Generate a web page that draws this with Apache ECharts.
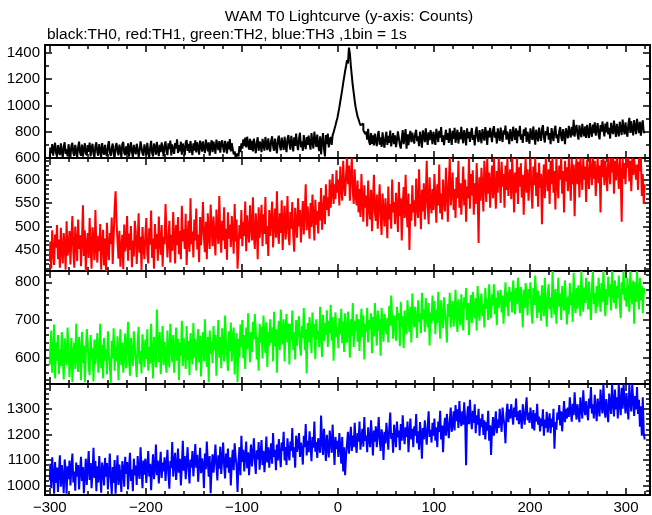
<!DOCTYPE html>
<html><head><meta charset="utf-8">
<script src="https://cdn.jsdelivr.net/npm/echarts@6/dist/echarts.min.js"></script>
<style>html,body{margin:0;padding:0;background:#fff}#c{width:652px;height:515px}</style>
</head><body><div id="c"></div><script>
const tStart = -300;
const binWidth = 1;
const titleText = 'WAM T0 Lightcurve (y-axis: Counts)';
const subtitleText = 'black:TH0, red:TH1, green:TH2, blue:TH3 ,1bin = 1s';
const channelNames = ['TH0', 'TH1', 'TH2', 'TH3'];

const th0 = [
602,680,635,705,618,672,716,640,610,698,
650,622,712,645,603,690,720,632,668,612,
705,648,608,694,715,636,615,700,655,604,
685,724,640,618,702,610,668,712,636,620,
698,646,718,612,670,708,632,604,692,720,
642,618,706,660,606,714,652,625,700,635,
614,692,728,644,616,676,710,628,600,690,
714,648,620,702,664,606,706,722,638,622,
688,632,712,610,668,720,645,608,700,660,
628,708,670,606,652,726,682,634,618,704,
666,620,716,650,603,678,730,640,612,710,
684,626,722,660,614,700,645,718,672,612,
696,726,650,622,712,668,732,620,704,658,
632,714,672,742,638,698,650,724,626,710,
676,620,718,736,654,708,638,728,670,622,
712,656,734,642,720,680,626,732,698,648,
726,674,638,740,700,650,720,618,690,735,
645,724,684,632,740,698,660,728,640,708,
734,680,642,730,690,634,725,665,744,650,
712,668,628,650,606,600,634,612,690,645,
712,672,742,690,756,680,762,706,665,745,
662,730,650,748,692,636,718,758,655,725,
700,645,745,708,656,760,700,660,750,688,
648,730,765,690,655,748,685,636,740,770,
695,658,755,702,662,762,690,645,745,775,
706,664,768,714,650,758,692,785,708,660,
745,792,682,726,655,775,705,668,760,700,
770,710,664,790,720,672,800,730,684,778,
696,652,765,628,722,790,672,612,775,705,
785,680,738,760,700,772,795,822,850,880,
905,945,985,1030,1075,1120,1170,1215,1260,1300,
1345,1320,1440,1395,1300,1225,1150,1095,1035,985,
950,915,895,870,850,835,862,810,796,782,
800,740,822,725,700,790,708,772,696,785,
732,690,775,805,702,758,685,795,722,678,
755,800,700,768,716,808,688,742,790,705,
772,682,735,802,752,700,672,748,812,706,
762,820,670,780,698,770,806,720,792,745,
710,785,815,728,765,690,800,752,678,810,
778,720,826,758,700,795,735,812,768,706,
800,748,700,822,768,722,806,755,835,722,
772,698,760,815,738,790,715,826,762,700,
806,745,830,716,770,815,710,795,742,838,
762,712,812,770,696,826,750,800,722,785,
828,738,775,695,802,838,752,722,812,766,
712,820,770,732,835,785,700,808,756,830,
775,720,815,842,755,795,710,825,775,730,
832,762,722,810,778,846,740,802,760,705,
820,770,728,838,788,738,826,712,808,765,
845,740,780,715,818,768,832,722,800,752,
708,826,772,738,840,765,702,815,770,726,
832,778,730,820,850,755,718,805,772,838,
740,790,706,828,770,728,812,845,750,780,
715,805,836,762,730,820,772,706,826,790,
750,845,792,756,838,772,890,762,825,852,
778,740,848,800,758,860,802,765,840,752,
852,796,752,866,806,762,855,790,872,770,
818,865,775,742,850,800,878,810,765,862,
795,875,780,830,748,868,812,782,885,818,
760,860,806,765,876,820,775,892,822,780,
872,800,762,860,905,790,880,815,772,888,
832,782,898,840,790,875,770,852,886,790,
805
];

const th1 = [
425,468,410,492,447,418,483,455,503,430,
472,412,497,450,421,486,461,408,511,438,
455,490,419,478,522,446,412,500,466,426,
515,452,481,415,470,545,437,492,405,463,
486,433,518,457,410,498,471,428,535,452,
423,480,447,505,408,465,493,417,474,405,
508,450,428,486,462,519,420,477,540,575,
510,468,431,491,414,455,482,409,504,447,
464,522,427,485,450,501,413,470,436,512,
489,420,462,528,444,478,407,499,457,430,
482,518,442,421,496,461,534,433,474,410,
505,452,484,427,521,465,440,503,414,478,
462,548,488,434,470,512,423,482,448,531,
476,421,503,460,520,441,490,430,544,468,
494,452,527,418,475,512,446,560,462,489,
434,515,470,538,451,483,424,520,460,499,
552,476,445,510,430,528,482,452,547,497,
458,521,477,438,536,490,463,565,481,444,
512,470,541,452,495,429,530,474,504,456,
522,488,442,548,468,515,410,455,503,474,
535,458,510,480,553,447,524,490,466,545,
500,470,562,482,452,528,497,430,541,475,
507,546,458,526,484,563,462,501,437,535,
480,514,553,455,505,538,476,575,492,463,
528,486,556,450,512,544,472,500,565,485,
460,531,495,552,481,446,540,503,476,560,
500,535,466,515,554,483,530,590,492,543,
512,474,550,499,568,520,470,557,504,533,
485,552,513,582,493,531,566,505,590,535,
562,522,600,540,575,612,548,590,558,620,
572,600,545,628,580,555,640,588,565,610,
646,590,630,555,612,646,575,548,622,565,
545,598,530,580,520,612,552,510,588,540,
566,500,598,538,515,578,490,551,610,530,
512,568,495,545,590,520,482,570,535,500,
560,528,475,585,515,548,495,600,530,552,
505,572,540,488,595,522,560,470,545,584,
518,610,535,498,570,450,548,512,588,530,
556,500,602,540,518,622,548,494,578,532,
592,515,560,640,545,505,605,552,528,580,
535,612,562,508,590,545,632,528,570,515,
600,555,532,625,575,510,592,646,545,572,
615,535,580,518,605,560,640,540,592,525,
575,628,545,600,510,585,560,646,538,612,
566,620,525,592,548,635,575,465,605,555,
625,580,532,640,595,552,646,570,615,540,
592,630,560,646,582,538,618,572,646,600,
550,638,585,612,540,630,578,646,565,606,
622,558,646,595,530,615,572,646,548,626,
585,635,562,610,525,598,646,572,622,555,
600,646,575,538,628,588,646,565,615,542,
636,582,612,505,598,632,560,646,602,575,
622,548,640,590,646,572,618,536,646,595,
560,630,600,646,570,618,530,640,596,626,
575,646,605,555,645,590,632,522,615,646,
590,638,562,646,612,578,646,600,628,552,
642,610,580,646,625,588,646,602,640,565,
615,646,592,630,530,642,605,646,588,640,
612,575,646,628,590,646,615,646,570,640,
598,646,622,580,645,612,510,646,602,635,
590,646,625,646,596,640,575,646,610,644,
646,600,632,578,646,618,646,565,612,548,
590
];

const th2 = [
580,625,672,560,610,688,545,640,592,660,
556,622,578,668,601,542,651,608,580,680,
626,548,596,652,535,612,640,570,690,600,
562,655,618,540,668,585,632,535,606,676,
640,575,553,660,596,625,537,648,582,615,
665,560,606,690,572,634,545,652,592,622,
555,670,612,578,533,645,598,678,565,628,
590,657,540,615,675,580,640,560,604,664,
572,630,695,595,552,652,608,578,670,622,
592,548,642,682,583,618,558,662,624,575,
648,596,675,565,628,584,690,606,545,655,
612,574,728,635,588,668,556,622,684,580,
642,600,560,672,615,574,690,630,588,660,
560,622,680,592,650,540,640,605,698,578,
652,618,570,684,594,645,553,665,626,582,
692,600,650,566,630,676,588,658,550,622,
668,590,702,625,575,655,535,672,610,640,
585,684,620,660,552,635,700,600,655,572,
678,628,590,712,642,608,565,670,618,693,
590,655,680,555,630,665,535,650,600,688,
630,700,598,660,570,680,622,718,640,588,
668,615,695,648,716,672,595,655,565,690,
640,682,598,712,655,612,694,575,668,630,
702,640,680,590,722,630,675,560,662,698,
620,728,668,635,702,590,680,716,640,690,
582,690,645,725,620,668,595,700,632,680,
710,630,605,684,652,732,620,675,558,692,
640,708,668,612,720,655,690,596,702,648,
672,628,735,660,602,714,645,692,660,726,
628,698,665,740,645,708,592,680,720,655,
680,625,705,662,730,638,695,615,718,670,
640,722,676,600,702,658,745,628,698,672,
715,642,702,618,682,730,655,712,595,690,
668,732,640,700,676,718,612,708,656,745,
686,632,725,670,702,605,732,690,642,716,
720,662,705,640,738,685,765,700,650,712,
690,645,735,700,718,630,748,682,710,625,
725,690,662,752,700,668,735,640,770,705,
680,735,700,652,752,695,718,665,772,702,
728,668,758,702,680,745,632,720,690,765,
698,750,662,728,692,775,715,650,752,705,
678,760,722,690,640,742,708,772,680,728,
750,682,718,780,702,668,755,710,686,768,
725,672,760,730,785,700,745,660,728,766,
692,775,735,705,758,672,790,728,698,752,
770,710,742,680,785,730,756,700,795,738,
705,768,740,795,715,758,686,778,732,762,
780,720,765,690,748,800,735,772,710,788,
750,775,720,805,765,715,785,742,812,760,
718,788,752,680,780,732,798,765,712,782,
755,800,722,690,785,740,818,762,705,778,
720,765,698,792,745,710,812,738,682,770,
795,728,760,705,830,748,715,782,690,752,
812,735,770,700,790,752,725,805,745,688,
762,715,798,740,772,695,825,750,718,785,
730,792,755,710,830,768,722,786,745,812,
765,728,802,748,700,786,830,742,772,718,
790,735,812,760,722,798,748,830,768,710,
782,740,815,762,795,725,830,772,745,805,
730,790,758,818,740,705,800,768,830,752,
785,735,812,760,722,830,775,742,805,690,
800,748,830,770,728,812,752,790,718,785,
770
];

const th3 = [
1020,1085,990,1110,1040,968,1092,1010,1070,975,
1052,1118,995,1080,1030,970,1102,1060,968,1075,
1025,1098,1000,1066,1125,1012,1055,980,1090,1035,
1080,985,1058,1112,1018,1072,970,1040,1105,1002,
1068,1135,1022,1088,990,1052,1148,1030,1096,978,
1075,1012,1115,1046,972,1090,1062,1000,1108,1035,
1088,985,1055,1125,1025,966,1072,1010,1100,968,
1048,1118,1002,1082,1036,975,1095,1064,995,1112,
1045,1092,985,1070,1128,1018,1063,978,1105,1040,
1078,1002,1115,1052,1026,1150,1066,990,1098,1042,
1105,1010,1072,1135,1035,1085,982,1064,1122,1025,
1070,1160,1040,1098,1008,1075,1132,1030,1090,1055,
1110,1018,1078,1140,1046,988,1096,1068,1170,1035,
1088,1128,1022,1072,1145,1050,1105,1000,1076,1175,
1058,1115,1025,1090,1150,1062,1008,1102,1070,1135,
1036,1095,1162,1070,1120,1015,1082,1148,1048,1106,
1085,990,1125,1064,1172,1092,1035,1115,970,1070,
1122,1050,1100,1160,1078,1020,1118,1066,1152,1045,
1102,1168,1080,1028,1125,1070,1145,1050,1110,1000,
1090,1140,1060,1165,1112,1075,975,1095,1150,1040,
1195,1092,1140,1055,1115,1172,1068,1130,1040,1108,
1160,1075,1120,1185,1096,1045,1138,1102,1170,1062,
1128,1178,1080,1136,1052,1110,1192,1090,1150,1070,
1125,1165,1085,1205,1112,1140,1060,1160,1098,1182,
1120,1072,1168,1135,1210,1098,1150,1080,1185,1128,
1098,1172,1135,1225,1110,1150,1070,1195,1132,1160,
1205,1112,1168,1138,1082,1195,1150,1240,1118,1175,
1130,1212,1155,1095,1190,1148,1250,1132,1170,1108,
1185,1150,1128,1274,1172,1120,1222,1160,1096,1198,
1150,1110,1215,1170,1128,1238,1158,1080,1190,1142,
1175,1112,1205,1152,1085,1190,1055,1150,1040,1118,
1165,1210,1125,1178,1230,1135,1195,1150,1245,1168,
1128,1205,1172,1250,1140,1185,1222,1152,1268,1175,
1195,1130,1228,1180,1150,1255,1190,1118,1215,1172,
1232,1150,1198,1268,1180,1135,1220,1190,1100,1210,
1165,1245,1195,1140,1225,1285,1182,1205,1128,1238,
1198,1150,1250,1188,1215,1138,1240,1175,1275,1200,
1162,1228,1190,1250,1130,1205,1262,1180,1222,1150,
1232,1195,1280,1165,1212,1140,1248,1200,1105,1225,
1180,1255,1205,1160,1230,1290,1190,1218,1168,1245,
1195,1262,1175,1228,1150,1250,1210,1292,1180,1235,
1130,1222,1265,1195,1280,1228,1185,1255,1305,1210,
1240,1290,1215,1315,1252,1298,1225,1330,1260,1232,
1290,1238,1325,1262,1079,1270,1310,1240,1335,1258,
1220,1292,1245,1318,1205,1275,1238,1300,1195,1262,
1228,1280,1198,1255,1180,1248,1215,1292,1175,1236,
1120,1215,1268,1195,1240,1290,1205,1258,1225,1300,
1252,1210,1305,1262,1235,1165,1280,1320,1248,1298,
1262,1318,1280,1238,1305,1268,1340,1255,1290,1240,
1295,1262,1222,1318,1272,1238,1300,1345,1255,1285,
1245,1305,1268,1222,1295,1215,1282,1250,1320,1238,
1270,1212,1262,1232,1298,1195,1258,1225,1288,1208,
1250,1282,1205,1262,1228,1300,1144,1248,1218,1285,
1258,1315,1235,1290,1212,1272,1330,1248,1300,1262,
1305,1268,1345,1290,1250,1320,1275,1365,1298,1258,
1318,1280,1248,1345,1300,1262,1372,1305,1275,1330,
1292,1255,1340,1302,1385,1282,1318,1262,1355,1298,
1252,1340,1305,1270,1375,1312,1282,1397,1305,1265,
1338,1292,1248,1360,1315,1280,1397,1322,1270,1375,
1298,1345,1262,1397,1318,1275,1382,1300,1397,1330,
1282,1362,1310,1258,1397,1325,1290,1397,1335,1272,
1350,1298,1385,1280,1335,1230,1310,1195,1345,1205,
1180
];

const seriesValues = [th0, th1, th2, th3];
const seriesColors = ['#000000', '#ff0000', '#00ff00', '#0000ff'];

// axis layout (not data)
const gridTops = [45, 158, 271, 384];
const gridHeight = 113;
const yMins = [600, 405, 530, 963];
const yMaxs = [1460, 646, 830, 1397];
const ySplits = [4, 5, 3, 4];
const yMinorSplits = [2, 5, 5, 5];
const yShowMinLabel = [true, false, false, false];
const xMin = -305, xMax = 325;

const FONT = '"Liberation Sans", Arial, Helvetica, sans-serif';
const axisLineStyle = {color: '#000', width: 2};
const tickStyle = {color: '#000', width: 1.5};

function pts(arr) {
  return arr.map((v, i) => [tStart + i * binWidth, v]);
}
function minusFmt(v) {
  return v < 0 ? '\u2212' + Math.abs(v) : String(v);
}

const grids = [], xAxes = [], yAxes = [], series = [];
for (let g = 0; g < 4; g++) {
  grids.push({left: 45, right: 2, top: gridTops[g], height: gridHeight, containLabel: false});
  ['bottom', 'top'].forEach((pos) => {
    xAxes.push({
      gridIndex: g, type: 'value', position: pos, min: xMin, max: xMax, splitNumber: 6,
      axisLine: {show: true, onZero: false, lineStyle: axisLineStyle},
      axisTick: {show: true, inside: true, length: 7, lineStyle: tickStyle},
      minorTick: {show: true, splitNumber: 5, length: 4, lineStyle: tickStyle},
      splitLine: {show: false},
      axisLabel: {show: pos === 'bottom' && g === 3, showMinLabel: false, showMaxLabel: false,
        color: '#000', fontSize: 15, fontFamily: FONT, margin: 5, formatter: minusFmt}
    });
  });
  ['left', 'right'].forEach((pos) => {
    yAxes.push({
      gridIndex: g, type: 'value', position: pos, min: yMins[g], max: yMaxs[g], splitNumber: ySplits[g],
      axisLine: {show: true, onZero: false, lineStyle: axisLineStyle},
      axisTick: {show: true, inside: true, length: 7, lineStyle: tickStyle},
      minorTick: {show: true, splitNumber: yMinorSplits[g], length: 4, lineStyle: tickStyle},
      splitLine: {show: false},
      axisLabel: {show: pos === 'left', showMinLabel: yShowMinLabel[g], showMaxLabel: false,
        color: '#000', fontSize: 15, fontFamily: FONT, margin: 5, formatter: (v) => String(v)}
    });
  });
  series.push({
    name: channelNames[g], type: 'line', step: 'middle', xAxisIndex: 2 * g, yAxisIndex: 2 * g,
    data: pts(seriesValues[g]), showSymbol: false, symbol: 'none', clip: true,
    lineStyle: {color: seriesColors[g], width: 2}, itemStyle: {color: seriesColors[g]},
    animation: false
  });
}

const chart = echarts.init(document.getElementById('c'), null, {renderer: 'canvas'});
chart.setOption({
  backgroundColor: '#ffffff',
  animation: false,
  graphic: [
    {type: 'text', x: 349, y: 17, style: {text: titleText, font: '15.5px ' + FONT, fill: '#000',
      align: 'center', verticalAlign: 'middle', textAlign: 'center', textVerticalAlign: 'middle'}},
    {type: 'text', x: 47, y: 35, style: {text: subtitleText, font: '15.5px ' + FONT, fill: '#000',
      align: 'left', verticalAlign: 'middle', textAlign: 'left', textVerticalAlign: 'middle'}}
  ],
  grid: grids, xAxis: xAxes, yAxis: yAxes, series: series
});
</script></body></html>
